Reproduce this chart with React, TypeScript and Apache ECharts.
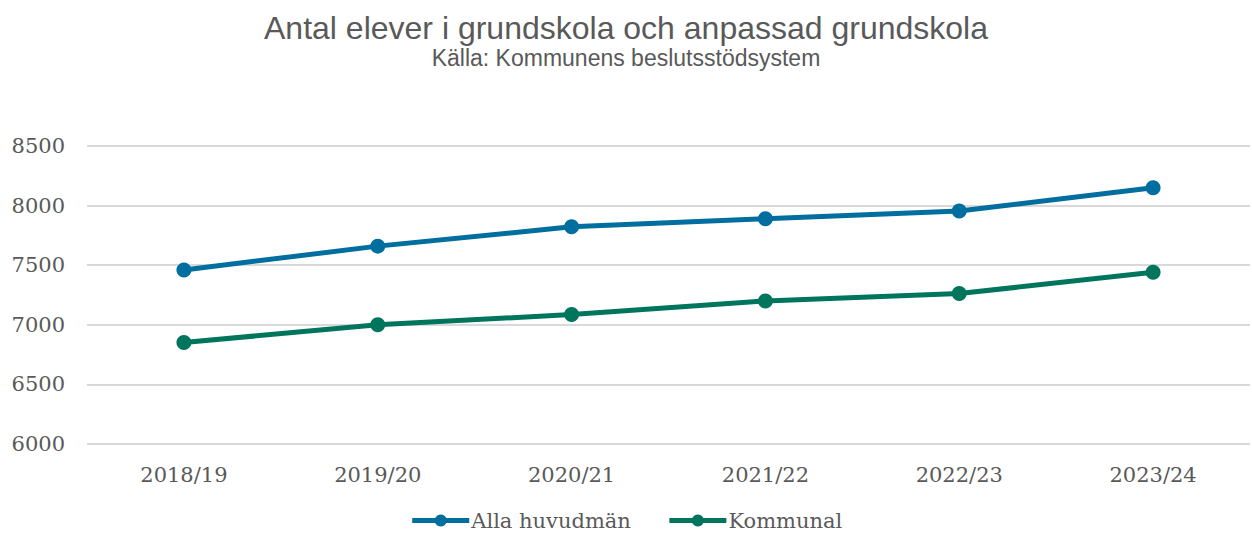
import React, { useEffect, useRef } from "react";
import * as echarts from "echarts";

const categories = ["2018/19", "2019/20", "2020/21", "2021/22", "2022/23", "2023/24"];
const allaHuvudman = [7460, 7660, 7822, 7890, 7954, 8150];
const kommunal = [6852, 7000, 7086, 7200, 7262, 7440];
const seriesNames = ["Alla huvudmän", "Kommunal"];
const titleText = "Antal elever i grundskola och anpassad grundskola";
const subtitleText = "Källa: Kommunens beslutsstödsystem";

export default function App() {
  const ref = useRef<HTMLDivElement>(null);
  useEffect(() => {
    if (!ref.current) return;
    const chart = echarts.init(ref.current, null, { renderer: "svg" });
    const serif = "'DejaVu Serif', 'Liberation Serif', serif";
    const sans = "'Liberation Sans', Arial, sans-serif";
    const makeSeries = (name: string, data: number[], color: string) => ({
      name,
      type: "line",
      data,
      symbol: "circle",
      symbolSize: 15,
      lineStyle: { width: 5, color },
      itemStyle: { color },
      z: 3,
    });
    chart.setOption({
      animation: false,
      title: {
        text: titleText,
        subtext: subtitleText,
        left: "center",
        top: 7,
        itemGap: 2,
        textStyle: { fontFamily: sans, fontSize: 32, fontWeight: "normal", color: "#595959" },
        subtextStyle: { fontFamily: sans, fontSize: 23, color: "#595959" },
      },
      legend: {
        data: seriesNames,
        top: 505,
        left: "center",
        itemWidth: 57,
        itemHeight: 15,
        itemGap: 36,
        lineStyle: { width: 5 },
        textStyle: { fontFamily: serif, fontSize: 21, color: "#595959", padding: [0, 0, 0, -3] },
      },
      grid: { left: 87, right: 2, top: 146, bottom: 89 },
      xAxis: {
        type: "category",
        data: categories,
        boundaryGap: true,
        axisLine: { show: false },
        axisTick: { show: false },
        axisLabel: { fontFamily: serif, fontSize: 21, color: "#595959", margin: 20 },
      },
      yAxis: {
        type: "value",
        min: 6000,
        max: 8500,
        interval: 500,
        axisLine: { show: false },
        axisTick: { show: false },
        axisLabel: {
          fontFamily: serif,
          fontSize: 21,
          color: "#595959",
          margin: 22,
          formatter: (v: number) => String(v),
        },
        splitLine: { lineStyle: { color: "#d9d9d9", width: 2 } },
      },
      series: [
        makeSeries(seriesNames[0], allaHuvudman, "#006E9F"),
        makeSeries(seriesNames[1], kommunal, "#00755E"),
      ],
    });
    return () => chart.dispose();
  }, []);
  return <div ref={ref} style={{ width: 1252, height: 533, position: "absolute", left: 0, top: 0 }} />;
}
